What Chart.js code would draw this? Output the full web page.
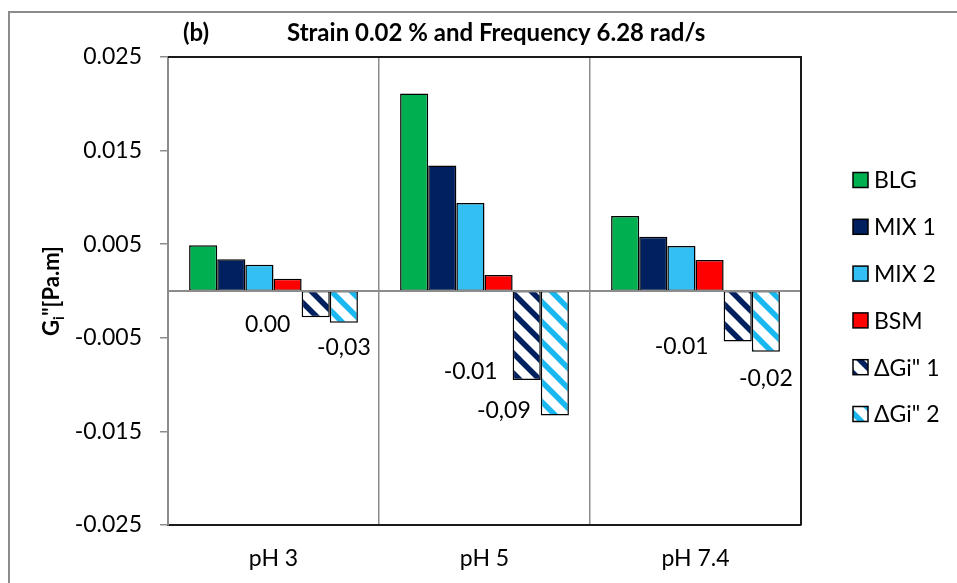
<!DOCTYPE html>
<html>
<head>
<meta charset="utf-8">
<script src="https://cdn.jsdelivr.net/npm/chart.js@4.4.1/dist/chart.umd.min.js"></script>
<style>
  html, body { margin: 0; padding: 0; background: #fff; }
  #wrap { width: 957px; height: 583px; position: relative; }
</style>
</head>
<body>
<div id="wrap"><canvas id="c" width="957" height="583"></canvas></div>
<script>
// ---- data ----
const categories = ['pH 3', 'pH 5', 'pH 7.4'];
const seriesNames = ['BLG', 'MIX 1', 'MIX 2', 'BSM', 'ΔGi" 1', 'ΔGi" 2'];
const blg  = [0.0049, 0.0211, 0.0080];
const mix1 = [0.0034, 0.0134, 0.0058];
const mix2 = [0.0028, 0.0094, 0.0048];
const bsm  = [0.0013, 0.0017, 0.0033];
const dGi1 = [-0.0028, -0.0095, -0.0054];
const dGi2 = [-0.0034, -0.0133, -0.0065];
const dGi1Labels = ['0.00', '-0.01', '-0.01'];
const dGi2Labels = ['-0,03', '-0,09', '-0,02'];
const yTickLabels = ['-0.025', '-0.015', '-0.005', '0.005', '0.015', '0.025'];
const titleTag = '(b)';
const titleText = 'Strain 0.02 % and Frequency 6.28 rad/s';

// ---- styling ----
const FONT = 'Lato, "Open Sans", sans-serif';
const FS = 23;
const GRAY = '#8c8c8c';
const C_BLG = '#00B050', C_MIX1 = '#002060', C_MIX2 = '#33BFF2', C_BSM = '#FF0000';

function hatch(color) {
  const s = 20;
  const cv = document.createElement('canvas');
  cv.width = s; cv.height = s;
  const g = cv.getContext('2d');
  g.fillStyle = '#fff';
  g.fillRect(0, 0, s, s);
  g.strokeStyle = color;
  g.lineWidth = 5.5;
  g.beginPath();
  g.moveTo(-s, -s); g.lineTo(2 * s, 2 * s);
  g.moveTo(-s, 0); g.lineTo(s, 2 * s);
  g.moveTo(0, -s); g.lineTo(2 * s, s);
  g.stroke();
  return document.getElementById('c').getContext('2d').createPattern(cv, 'repeat');
}

const fills = [C_BLG, C_MIX1, C_MIX2, C_BSM, hatch(C_MIX1), hatch('#1AB8F0')];
const values = [blg, mix1, mix2, bsm, dGi1, dGi2];

const datasets = values.map((v, i) => ({
  label: seriesNames[i],
  data: v,
  backgroundColor: fills[i],
  borderColor: '#000',
  borderWidth: 1.5,
  borderSkipped: false,
  categoryPercentage: 0.8,
  barPercentage: 1.0
}));

const decor = {
  id: 'decor',
  beforeDraw(chart) {
    const ctx = chart.ctx;
    ctx.save();
    ctx.fillStyle = '#fff';
    ctx.fillRect(0, 0, chart.width, chart.height);
    ctx.strokeStyle = GRAY;
    ctx.lineWidth = 2;
    ctx.beginPath();
    ctx.moveTo(9, chart.height + 5); ctx.lineTo(9, 12); ctx.lineTo(chart.width + 5, 12);
    ctx.stroke();
    ctx.restore();
  },
  afterDatasetsDraw(chart) {
    const ctx = chart.ctx, a = chart.chartArea, y = chart.scales.y;
    const y0 = y.getPixelForValue(0);
    ctx.save();
    ctx.strokeStyle = GRAY;
    ctx.lineWidth = 2;
    ctx.beginPath();
    ctx.moveTo(a.left, y0); ctx.lineTo(a.right, y0);
    ctx.stroke();
    ctx.restore();
  },
  afterDraw(chart) {
    const ctx = chart.ctx, a = chart.chartArea;
    ctx.save();
    // frame top / right
    ctx.strokeStyle = '#1a1a1a';
    ctx.lineWidth = 2;
    ctx.beginPath();
    ctx.moveTo(a.left, a.top); ctx.lineTo(a.right, a.top); ctx.lineTo(a.right, a.bottom);
    ctx.stroke();

    // title
    ctx.fillStyle = '#000';
    ctx.font = 'bold 24px ' + FONT;
    ctx.textBaseline = 'middle';
    ctx.textAlign = 'left';
    ctx.fillText(titleTag, a.left + 15, a.top - 24);
    ctx.fillText(titleText, a.left + 119, a.top - 24);

    // y axis title with subscript
    ctx.save();
    ctx.translate(52, (a.top + a.bottom) / 2);
    ctx.rotate(-Math.PI / 2);
    ctx.font = 'bold 22px ' + FONT;
    const wG = ctx.measureText('G').width;
    const rest = '"[Pa.m]';
    const wR = ctx.measureText(rest).width;
    ctx.font = 'bold 15px ' + FONT;
    const wi = ctx.measureText('i').width;
    let x = -(wG + wi + wR) / 2;
    ctx.textAlign = 'left';
    ctx.textBaseline = 'middle';
    ctx.font = 'bold 22px ' + FONT;
    ctx.fillText('G', x, 0); x += wG;
    ctx.font = 'bold 15px ' + FONT;
    ctx.fillText('i', x, 7); x += wi;
    ctx.font = 'bold 22px ' + FONT;
    ctx.fillText(rest, x, 0);
    ctx.restore();

    // data labels for the difference series
    ctx.font = FS + 'px ' + FONT;
    ctx.textAlign = 'center';
    ctx.textBaseline = 'middle';
    ctx.fillStyle = '#000';
    const off1 = [[-48, 7], [-56, -8], [-56, 5]];
    const off2 = [[0, 25], [-51, -5], [0, 27]];
    const m1 = chart.getDatasetMeta(4).data, m2 = chart.getDatasetMeta(5).data;
    m1.forEach((el, i) => ctx.fillText(dGi1Labels[i], el.x + off1[i][0], el.y + off1[i][1]));
    m2.forEach((el, i) => ctx.fillText(dGi2Labels[i], el.x + off2[i][0], el.y + off2[i][1]));

    // legend
    const lx = a.right + 52, step = 46.8, ly0 = (a.top + a.bottom) / 2 - step * 2.5 + 6;
    chart.data.datasets.forEach((ds, i) => {
      const cy = ly0 + i * step;
      ctx.fillStyle = ds.backgroundColor;
      ctx.fillRect(lx, cy - 7.5, 15, 15);
      ctx.strokeStyle = '#000';
      ctx.lineWidth = 1.5;
      ctx.strokeRect(lx, cy - 7.5, 15, 15);
      ctx.fillStyle = '#000';
      ctx.textAlign = 'left';
      ctx.font = FS + 'px ' + FONT;
      ctx.fillText(ds.label, lx + 21, cy + 1);
    });
    ctx.restore();
  }
};

new Chart(document.getElementById('c'), {
  type: 'bar',
  data: { labels: categories, datasets },
  options: {
    responsive: false,
    animation: false,
    layout: { padding: { left: 0, top: 57, right: 156, bottom: 0 } },
    plugins: { legend: { display: false }, title: { display: false }, tooltip: { enabled: false } },
    scales: {
      x: {
        grid: { display: true, offset: true, color: GRAY, lineWidth: 1.5, drawTicks: false, tickLength: 0 },
        border: { display: true, color: '#1a1a1a', width: 2 },
        ticks: { color: '#000', font: { family: FONT, size: FS }, padding: 20 },
        afterFit(s) { s.height = 58; }
      },
      y: {
        min: -0.025, max: 0.025,
        ticks: {
          stepSize: 0.01,
          color: '#000',
          font: { family: FONT, size: FS },
          padding: 18,
          callback: (v, i) => yTickLabels[i]
        },
        grid: { drawOnChartArea: false, drawTicks: true, tickLength: 8, color: GRAY, lineWidth: 1.5 },
        border: { display: true, color: GRAY, width: 2 },
        afterFit(s) { s.width = 168; }
      }
    }
  },
  plugins: [decor]
});
</script>
</body>
</html>
